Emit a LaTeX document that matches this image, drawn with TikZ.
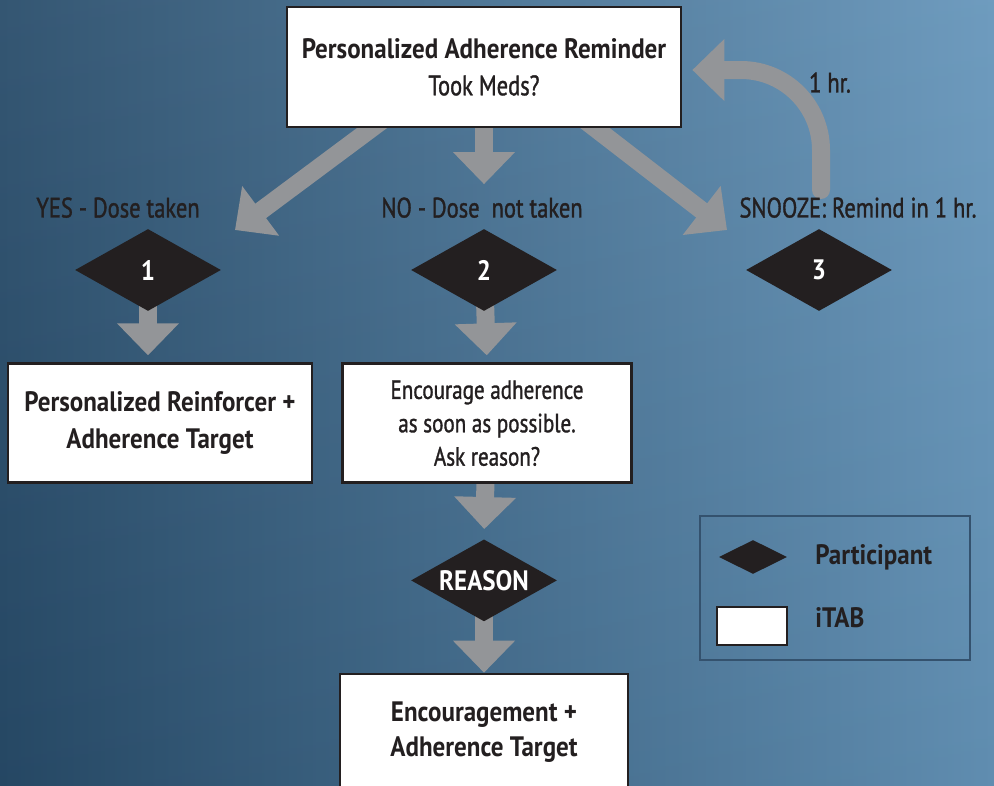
\documentclass[tikz,border=0pt]{standalone}
\usepackage{fontspec}
\setmainfont{PT Sans}[FakeStretch=0.8,BoldFeatures={FakeStretch=0.89}]
\newfontfamily\medfont{PT Sans}[FakeStretch=0.8,FakeBold=1.2]
\usetikzlibrary{arrows.meta,positioning,shapes.geometric,calc,backgrounds}

\definecolor{ink}{HTML}{231F20}
\definecolor{arrowgray}{HTML}{939598}
\definecolor{bgleft}{RGB}{40,76,106}
\definecolor{bgright}{RGB}{102,150,187}
\definecolor{legendline}{RGB}{52,82,110}

\begin{document}
\begin{tikzpicture}[x=0.02cm,y=-0.02cm,
    box node/.style={rectangle,draw=ink,fill=white,line width=0.055cm,align=center,text=ink,inner sep=0pt},
    dia node/.style={diamond,fill=ink,aspect=1.78,inner sep=0pt,minimum width=2.92cm,minimum height=1.64cm,
                     text=white,font=\fontsize{16}{19}\selectfont\bfseries},
    label node/.style={text=ink,inner sep=0pt,text height=0.4cm,text depth=0.1cm,font=\fontsize{16}{19}\selectfont\medfont},
    flow/.style={draw=arrowgray,line width=0.36cm,-{Triangle[width=1.2cm,length=0.64cm]}}]

  \useasboundingbox (0,0) rectangle (994,786);
  \clip (0,0) rectangle (994,786);

  % reminder and the three answers
  \node[box node,minimum width=7.88cm,minimum height=2.4cm,font=\fontsize{16}{21}\selectfont] (top) at (484,67)
    {{\bfseries Personalized Adherence Reminder}\\{\medfont Took Meds?}};
  \node[label node] (yes) at (118,210) {YES - Dose taken};
  \node[label node] (no) at (482,210) {NO - Dose~~not taken};
  \node[label node] (snooze) at (858,210) {SNOOZE: Remind in 1 hr.};
  \node[label node] (hour) at (830,85) {1 hr.};

  \node[dia node] (d1) at (148,270) {1};
  \node[dia node] (d2) at (484,270) {2};
  \node[dia node] (d3) at (819,270) {3};

  % what iTAB sends back
  \node[box node,minimum width=6.08cm,minimum height=2.38cm,font=\fontsize{16}{21}\selectfont\bfseries,
        below=1.02cm of d1,xshift=0.24cm] (box1) {Personalized Reinforcer +\\Adherence Target};
  \node[box node,minimum width=5.78cm,minimum height=2.38cm,font=\fontsize{15}{19}\selectfont\medfont,
        below=1.02cm of d2,xshift=0.06cm] (box2) {Encourage adherence\\as soon as possible.\\Ask reason?};
  \node[dia node,below=1.1cm of box2,xshift=-0.06cm] (reason) {REASON};
  \node[box node,minimum width=5.76cm,minimum height=2.6cm,text depth=0.38cm,font=\fontsize{16}{20}\selectfont\bfseries,
        below=1.02cm of reason] (box3) {Encouragement +\\Adherence Target};

  % legend
  \node[draw=legendline,line width=0.03cm,minimum width=5.4cm,minimum height=2.88cm] (legend) at (835,588) {};
  \node[diamond,fill=ink,aspect=2,inner sep=0pt,minimum width=1.36cm,minimum height=0.68cm] (legdia) at (753,557) {};
  \node[box node,minimum width=1.4cm,minimum height=0.76cm] (legbox) at (752,626) {};
  \node[label node,anchor=base west,font=\fontsize{16}{19}\selectfont\bfseries] (participant) at (815,565) {Participant};
  \node[label node,anchor=base west,font=\fontsize{16}{19}\selectfont\bfseries] (itab) at (815,628) {iTAB};

  \coordinate (yesend) at (235,230);
  \coordinate (snzend) at (727,230);
  \coordinate (loopstart) at (821,190);

  \begin{scope}[on background layer]
    \shade[left color=bgleft,right color=bgright] (0,0) rectangle (994,786);
    \shade[top color=white,bottom color=black,opacity=0.06] (0,0) rectangle (994,786);

    \draw[flow] ($(top.center)+(-30,0)$) -- (yesend);
    \draw[flow] (top.center) -- ($(top.south |- no.north)+(0,-13)$);
    \draw[flow] ($(top.center)+(32,0)$) -- (snzend);
    \draw[flow,line cap=round] (loopstart) -- ++(0,-40) arc[start angle=0,end angle=90,radius=1.6cm]
      -- ($(top.east)+(10,3)$);

    \path (d1.center) edge[flow,shorten >=0.14cm] (d1.center |- box1.north)
          (d2.center) edge[flow,shorten >=0.14cm] (box2.north)
          (box2.center) edge[flow,shorten >=0.2cm] (reason.north)
          (reason.center) edge[flow] (box3.north);
  \end{scope}
\end{tikzpicture}
\end{document}
